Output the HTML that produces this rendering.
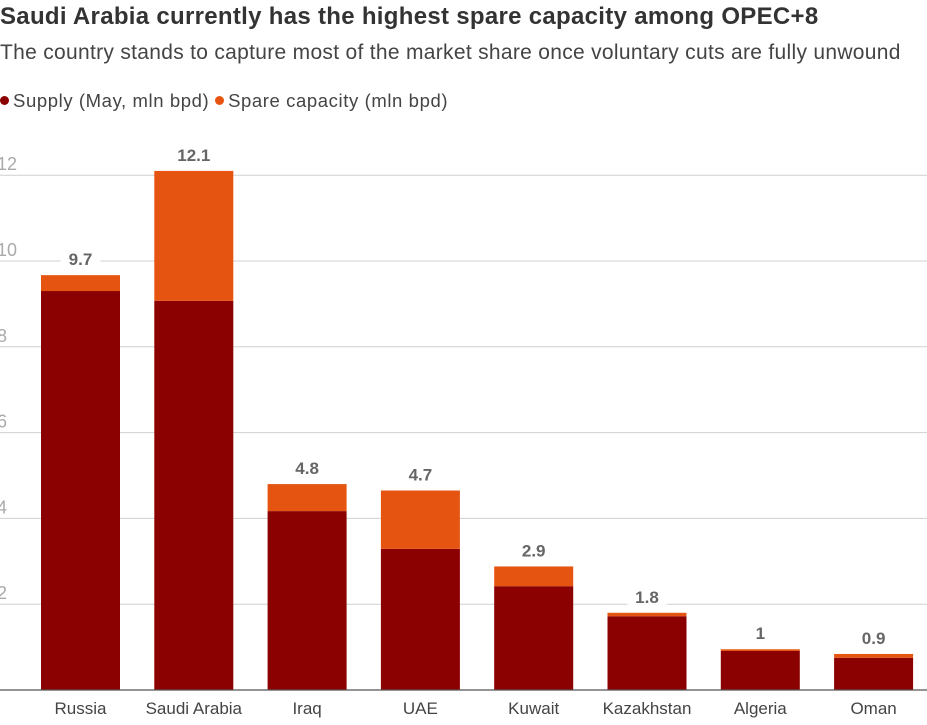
<!DOCTYPE html>
<html><head><meta charset="utf-8"><style>
body{margin:0;background:#fff;width:927px;height:725px;overflow:hidden;font-family:"Liberation Sans",sans-serif;}
#t{position:absolute;left:0;top:3px;font-size:24px;font-weight:bold;color:#333;letter-spacing:0.3px;white-space:nowrap}
#s{position:absolute;left:0;top:41px;font-size:21px;color:#444;letter-spacing:0.3px;white-space:nowrap}
#lg{position:absolute;left:0;top:90px;font-size:18.5px;color:#444;letter-spacing:0.6px;white-space:nowrap}
.d{display:inline-block;width:9px;height:9px;border-radius:50%;margin-right:4px;vertical-align:2px}
svg{position:absolute;left:0;top:0}
</style></head><body>
<div id="t">Saudi Arabia currently has the highest spare capacity among OPEC+8</div>
<div id="s">The country stands to capture most of the market share once voluntary cuts are fully unwound</div>
<div id="lg"><span><span class="d" style="background:#8b0000"></span>Supply (May, mln bpd)</span> <span><span class="d" style="background:#e55411"></span>Spare capacity (mln bpd)</span></div>
<svg id="c" width="927" height="725"></svg>
<script>
const categories=["Russia","Saudi Arabia","Iraq","UAE","Kuwait","Kazakhstan","Algeria","Oman"];
const supply=[9.3,9.07,4.17,3.29,2.42,1.72,0.91,0.75];
const spare=[0.37,3.03,0.63,1.36,0.46,0.08,0.04,0.09];
const totalLabels=["9.7","12.1","4.8","4.7","2.9","1.8","1","0.9"];
const yTicks=[2,4,6,8,10,12];
const svg=document.getElementById('c');
const NS='http://www.w3.org/2000/svg';
const y=v=>690-v*42.9;
const x=i=>41+i*113.3;
const bw=79;
function mk(t,a){const e=document.createElementNS(NS,t);for(const k in a)e.setAttribute(k,a[k]);svg.appendChild(e);return e;}
yTicks.forEach(v=>{
 const l=mk('line',{x1:0,x2:927,y1:y(v),y2:y(v),stroke:'#d0d0d0','stroke-width':1});
 
 
 const t=mk('text',{x:-3,y:y(v)-5,'font-size':18,fill:'#aaa'});t.textContent=v;
 
 
});
categories.forEach((c,i)=>{
 const tot=supply[i]+spare[i];
 const r1=mk('rect',{x:x(i),y:y(supply[i]),width:bw,height:y(0)-y(supply[i]),fill:'#8b0000'});
 
 
 const r2=mk('rect',{x:x(i),y:y(tot),width:bw,height:y(supply[i])-y(tot),fill:'#e55411'});
 
 
 const bg=mk('rect',{x:x(i)+bw/2-20,y:y(tot)-28,width:40,height:20,fill:'#fff'});
 
 
 const vl=mk('text',{x:x(i)+bw/2,y:y(tot)-10,'font-size':17,'font-weight':'bold',fill:'#666','text-anchor':'middle'});vl.textContent=totalLabels[i];
 
 
 const cl=mk('text',{x:x(i)+bw/2,y:714,'font-size':17,fill:'#444','text-anchor':'middle'});cl.textContent=c;
 
 
});
const ax=mk('line',{x1:0,x2:927,y1:690,y2:690,stroke:'#555','stroke-width':1.2});


</script>
</body></html>
